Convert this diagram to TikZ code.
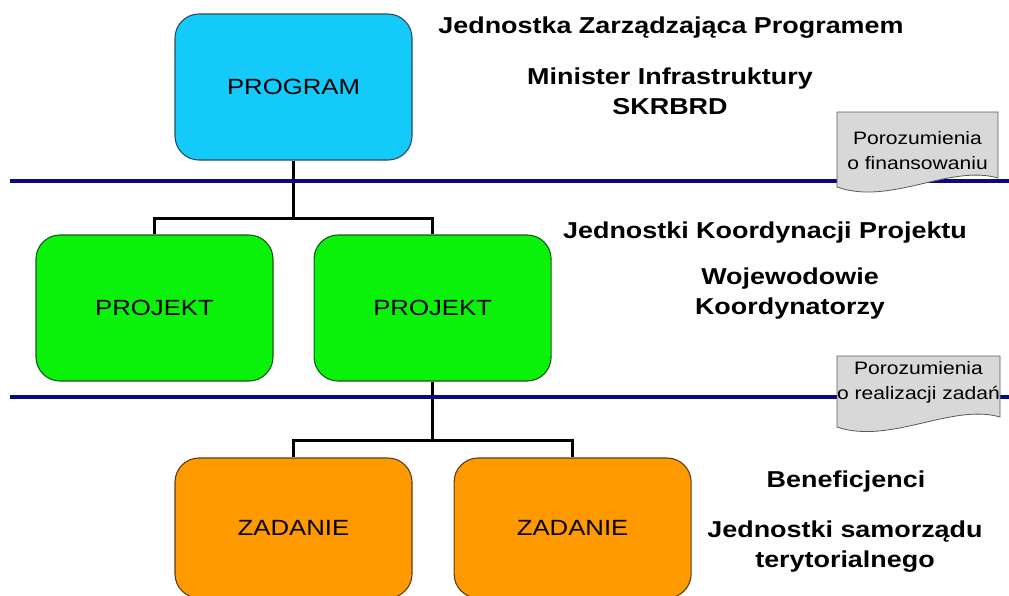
\documentclass[tikz,border=0pt]{standalone}
\usepackage{fontspec}
\setmainfont{Liberation Sans}[FakeStretch=1.17]
\usetikzlibrary{positioning}

\definecolor{progblue}{RGB}{20,202,250}
\definecolor{progedge}{RGB}{45,75,90}
\definecolor{projgreen}{RGB}{10,242,10}
\definecolor{projedge}{RGB}{20,90,20}
\definecolor{taskorange}{RGB}{255,153,0}
\definecolor{taskedge}{RGB}{95,60,25}
\definecolor{navyline}{RGB}{10,10,128}
\definecolor{docgray}{RGB}{216,216,216}
\definecolor{docedge}{RGB}{90,90,90}

\begin{document}
\begin{tikzpicture}[
        x=1pt,y=-1pt,
        cell/.style={
          draw,
          rounded corners=24pt,
          line width=1.1pt,
          minimum width=237pt,
          minimum height=146pt,
          inner sep=0pt,
          font=\fontsize{22}{26}\selectfont
        },
        progcell/.style={cell, fill=progblue, draw=progedge},
        projcell/.style={cell, fill=projgreen, draw=projedge},
        taskcell/.style={cell, fill=taskorange, draw=taskedge, minimum height=140pt},
        lvl/.style={
          align=center,
          inner sep=0pt,
          font=\bfseries\fontsize{23}{30}\selectfont
        },
        note/.style={
          align=center,
          inner sep=0pt,
          font=\fontsize{18}{25}\selectfont
        },
        conn/.style={line width=2.6pt, black},
        sep/.style={line width=3.6pt, navyline},
        docshape/.style={fill=docgray, draw=docedge, line width=0.8pt}
        ]
        \clip (0,0) rectangle (1009,595);

        % boxes
        \node[progcell] at (293.5,87) 
          (prog) {PROGRAM};
        \node[projcell] at (154.5,308) 
          (proj1) {PROJEKT};
        \node[projcell,right=40pt of proj1] 
          (proj2) {PROJEKT};
        \node[taskcell] at (293.5,528) 
          (task1) {ZADANIE};
        \node[taskcell,right=41pt of task1] 
          (task2) {ZADANIE};

        % tree connectors
        \coordinate (fork1) at ([yshift=-58pt]prog.south);
        \coordinate (fork2) at ([yshift=-59pt]proj2.south);
        \draw[conn] (prog.south) -- (fork1);
        \draw[conn] (proj1.north) |- (fork1) -| (proj2.north);
        \draw[conn] (proj2.south) -- (fork2);
        \draw[conn] (task1.north) |- (fork2) -| (task2.north);

        % level dividers
        \coordinate (sepL1) at (10,181);
        \coordinate (sepR1) at (1009,181);
        \coordinate (sepL2) at (10,397);
        \coordinate (sepR2) at (1009,397);
        \draw[sep] (sepL1) -- (sepR1);
        \draw[sep] (sepL2) -- (sepR2);

        % agreements
        \draw[docshape] (837,112) -- (998,112) -- (998,178)
          .. controls (950,164) and (890,206) .. (837,187) -- cycle;
        \node[note] at (917.5,151) 
          (agr1) {Porozumienia\\o finansowaniu};
        \draw[docshape] (837,356) -- (1000,356) -- (1000,417)
          .. controls (952,403) and (890,445) .. (837,427) -- cycle;
        \node[note] at (918.5,382) 
          (agr2) {Porozumienia\\o realizacji zadań};

        % level descriptions
        \node[lvl] at (671,28) 
          (unit1) {Jednostka Zarządzająca Programem};
        \node[lvl] at (670,91) 
          (who1) {Minister Infrastruktury\\SKRBRD};
        \node[lvl] at (765,233) 
          (unit2) {Jednostki Koordynacji Projektu};
        \node[lvl] at (790,294) 
          (who2) {Wojewodowie\\Koordynatorzy};
        \node[lvl] at (846,482) 
          (unit3) {Beneficjenci};
        \node[lvl] at (845,547) 
          (who3) {Jednostki samorządu\\terytorialnego};
\end{tikzpicture}
\end{document}
